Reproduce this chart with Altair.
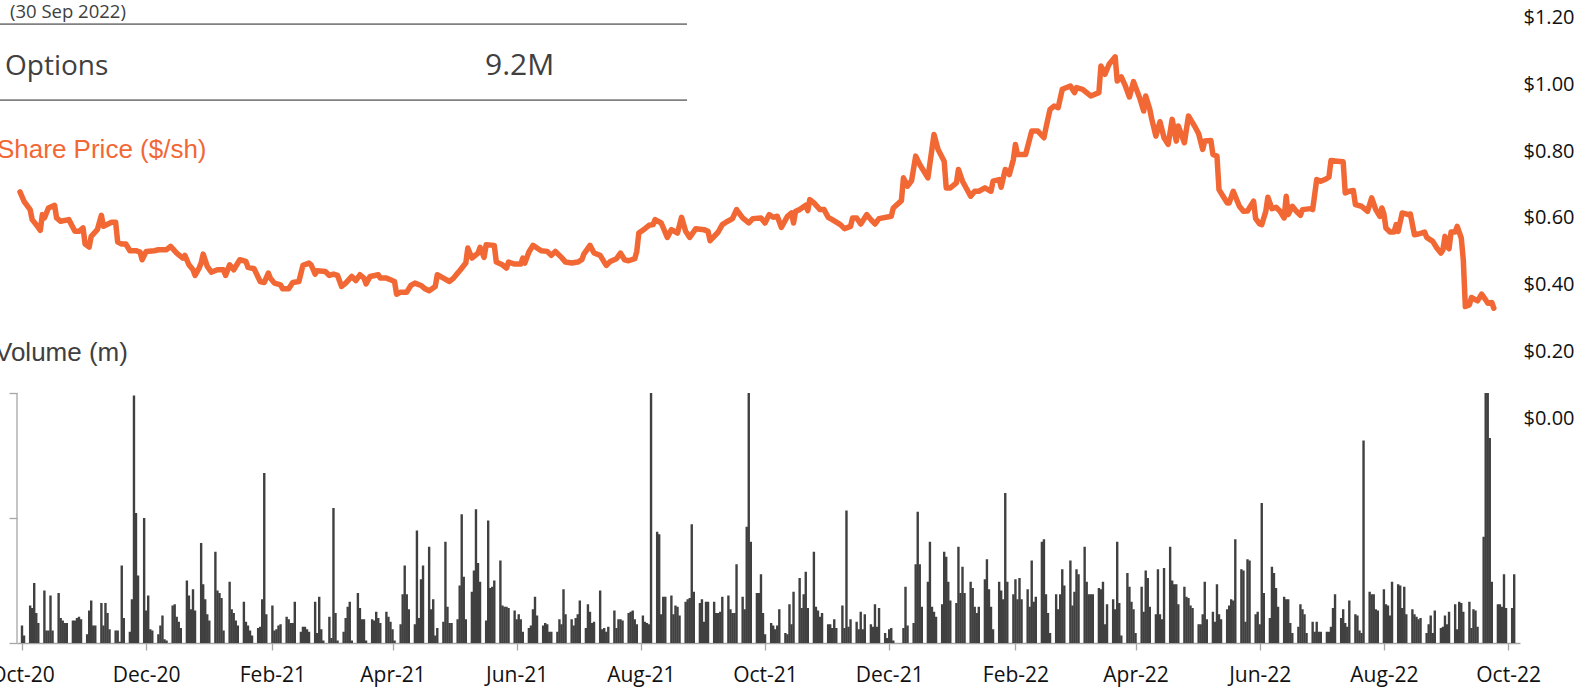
import altair as alt
import pandas as pd

START = "2020-10-01"

# ---------------- data ----------------
# daily traded volume (m), business days from 1 Oct 2020, one row per week
volume_m = [
    0.7, 0.3,
    1.5, 1.4, 2.4, 1.2, 0.8,
    2.1, 0.5, 0.5, 1.9, 0.5,
    2.0, 1.0, 0.9, 0.8, 0.8,
    0.9, 0.9, 1.0, 1.05, 0.95,
    0.35, 1.3, 1.7, 0.7, 0.7,
    1.6, 0.7, 1.6, 1.2, 0.55,
    0.5, 0.5, 0.05, 3.1, 1.0,
    0.45, 1.75, 9.9, 5.2, 2.7,
    5.0, 1.3, 1.9, 0.55, 0.5,
    0.35, 0.7, 1.1, 0.15, 0.1,
    1.5, 1.55, 1.05, 0.85, 0.6,
    2.5, 1.9, 1.35, 2.15, 1.3,
    4.0, 2.35, 1.75, 1.15, 0.9,
    3.65, 2.1, 2.0, 1.8, 0.5,
    2.45, 1.35, 1.2, 0.9, 0.7,
    1.65, 0.85, 0.7, 0.5, 0.3,
    0.6, 0.65, 1.75, 6.8, 1.15,
    1.5, 0.5, 0.55, 0.7, 0.75,
    1.05, 0.95, 0.8, 0.8, 1.65,
    0.45, 0.65, 0.65, 0.55, 0.45,
    1.65, 0.4, 1.85, 0.55, 0.1,
    1.05, 0.2, 5.4, 1.2, 0.1,
    0.45, 1.0, 1.45, 1.65, 0.1,
    2.0, 1.4, 0.95, 0.95, 0.1,
    0.95, 0.9, 1.25, 1.0, 0.8,
    1.25, 1.05, 0.85, 0.55, 0.1,
    0.75, 1.95, 3.1, 1.95, 1.35,
    0.75, 4.5, 1.0, 2.55, 3.1,
    3.85, 1.35, 1.75, 0.3, 0.6,
    0.85, 4.05, 1.45, 0.8, 0.8,
    0.95, 2.3, 5.15, 2.65, 0.95,
    2.05, 2.9, 5.35, 3.2, 2.45,
    0.9, 4.9, 2.2, 2.25, 2.5,
    3.3, 1.5, 1.45, 1.45, 1.4,
    1.3, 0.95, 1.15, 0.95, 0.45,
    0.6, 0.7, 1.35, 1.85, 1.1,
    0.7, 0.8, 0.75, 0.45, 0.45,
    0.45, 0.95, 0.75, 2.15, 1.15,
    0.95, 0.7, 1.0, 1.15, 1.7,
    0.6, 1.55, 1.25, 0.8, 0.85,
    2.1, 0.55, 0.6, 0.45, 0.65,
    1.3, 0.6, 0.95, 0.95, 0.9,
    1.2, 1.25, 1.3, 0.95, 0.75,
    1.1, 0.85, 0.8, 0.75, 10.0,
    4.45, 4.35, 1.15, 1.85, 1.85,
    1.9, 1.15, 1.5, 1.45, 1.1,
    1.65, 1.75, 1.8, 4.75, 2.05,
    1.6, 1.75, 0.85, 1.65, 1.65,
    1.65, 1.2, 1.2, 1.25, 1.85,
    1.9, 1.35, 1.2, 1.2, 3.15,
    1.85, 1.35, 4.65, 10.0, 4.05,
    2.0, 2.0, 2.75, 1.2, 0.35,
    0.8, 0.7, 0.55, 0.7, 1.35,
    0.4, 0.35, 1.55, 0.75, 2.05,
    2.6, 1.4, 1.95, 2.85, 1.4,
    3.65, 1.45, 1.3, 1.05, 1.2,
    0.75, 0.75, 0.6, 0.95, 0.6,
    1.5, 0.6, 5.3, 0.65, 0.95,
    0.85, 0.55, 1.25, 0.55, 1.15,
    0.75, 0.65, 1.55, 0.65, 1.4,
    0.4, 0.2, 0.55, 0.6, 0.1,
    0.0, 0.0, 0.6, 2.25, 0.7,
    0.8, 3.15, 5.25, 3.15, 1.45,
    2.45, 4.05, 1.45, 1.25, 1.05,
    1.55, 3.65, 3.45, 2.45, 1.7,
    1.6, 3.85, 2.0, 3.05, 2.0,
    2.45, 2.2, 1.45, 1.2, 1.45,
    2.55, 3.35, 2.15, 1.45, 0.55,
    2.45, 2.1, 1.75, 6.0, 2.45,
    1.95, 2.55, 1.75, 2.6, 1.75,
    2.15, 1.45, 3.3, 1.65, 1.85,
    4.05, 4.15, 1.95, 1.2, 0.4,
    1.95, 1.35, 1.95, 2.95, 2.3,
    3.3, 1.5, 2.05, 2.95, 2.75,
    3.85, 2.45, 1.95, 1.95, 1.95,
    2.2, 2.15, 2.45, 0.75, 1.55,
    1.75, 1.35, 4.05, 1.6, 0.3,
    2.8, 2.25, 1.65, 1.35, 0.4,
    2.25, 1.25, 2.9, 2.6, 1.45,
    1.15, 2.95, 1.15, 0.95, 3.0,
    3.85, 2.5, 2.35, 2.35, 1.55,
    2.25, 1.85, 1.8, 1.5, 1.4,
    0.75, 0.75, 1.15, 2.45, 0.95,
    1.25, 0.85, 2.35, 1.15, 0.95,
    1.35, 1.5, 1.75, 1.7, 4.15,
    2.95, 2.9, 0.85, 3.35, 3.3,
    1.15, 1.25, 0.75, 5.6, 2.0,
    1.0, 3.05, 2.8, 2.2, 1.45,
    1.85, 1.75, 1.75, 0.8, 0.4,
    0.65, 1.55, 1.35, 1.15, 0.4,
    0.85, 0.45, 0.85, 0.45, 0.45,
    0.45, 0.45, 0.65, 1.4, 1.95,
    1.0, 1.35, 0.8, 0.65, 1.7,
    1.15, 1.1, 0.5, 0.4, 8.1,
    2.05, 1.95, 1.95, 1.35, 1.3,
    2.15, 1.55, 1.5, 1.1, 2.45,
    2.35, 2.3, 1.4, 2.25, 1.15,
    1.35, 1.15, 1.05, 0.95, 1.0,
    0.4, 0.75, 1.1, 0.4, 1.3,
    0.6, 0.65, 1.1, 0.75, 1.25,
    1.55, 0.55, 1.65, 1.6, 1.25,
    1.65, 0.6, 1.35, 1.3, 0.65,
    4.25, 10.0, 10.0, 8.2, 2.45,
    1.55, 1.55, 1.45, 2.75, 1.4,
    1.4, 2.75,
]

# share price: days after 1 Oct 2020, and price in $/sh
price_day = [
    -1, 1, 4, 5, 7, 9, 10, 11, 13, 16, 17, 19, 23, 26, 28, 30, 31, 33, 34, 37,
    39, 40, 44, 46, 47, 49, 51, 53, 56, 58, 59, 61, 65, 67, 71, 73, 76, 79, 80, 82,
    84, 85, 87, 88, 89, 91, 93, 96, 99, 100, 102, 104, 107, 110, 111, 114, 117, 119, 121, 122,
    124, 127, 128, 131, 133, 136, 138, 141, 142, 144, 145, 149, 151, 153, 155, 157, 159, 162, 164, 166,
    168, 169, 171, 175, 176, 179, 181, 183, 184, 186, 189, 191, 193, 196, 198, 200, 203, 204, 207, 210,
    212, 214, 215, 218, 219, 221, 224, 225, 227, 228, 232, 233, 236, 238, 239, 242, 245, 246, 247, 249,
    251, 253, 255, 258, 260, 262, 265, 267, 270, 273, 275, 276, 279, 281, 284, 287, 289, 292, 294, 296,
    298, 301, 302, 303, 306, 308, 310, 311, 314, 317, 319, 322, 324, 326, 328, 331, 335, 337, 338, 340,
    342, 344, 346, 349, 351, 354, 357, 359, 363, 365, 367, 369, 371, 373, 376, 378, 379, 380, 382, 385,
    386, 387, 389, 392, 394, 396, 398, 402, 404, 407, 408, 410, 412, 415, 417, 419, 421, 427, 428, 432,
    433, 435, 437, 439, 441, 445, 448, 450, 453, 454, 456, 459, 460, 462, 466, 468, 470, 473, 476, 477,
    480, 481, 483, 485, 487, 488, 489, 493, 496, 499, 502, 503, 505, 507, 509, 511, 515, 517, 518, 521,
    523, 525, 529, 530, 532, 534, 537, 538, 540, 542, 544, 546, 549, 551, 552, 554, 555, 557, 559, 561,
    563, 565, 567, 568, 571, 573, 576, 578, 580, 581, 584, 585, 587, 588, 590, 592, 593, 595, 598, 600,
    602, 605, 606, 608, 609, 611, 612, 614, 616, 618, 620, 621, 622, 624, 626, 628, 629, 633, 634, 636,
    638, 640, 642, 643, 646, 649, 650, 652, 654, 655, 658, 660, 661, 663, 665, 667, 668, 669, 670, 672,
    674, 675, 676, 678, 681, 682, 684, 686, 689, 690, 693, 695, 697, 698, 699, 700, 701, 702, 704, 705,
    707, 708, 709, 711, 712, 715, 717, 719, 720, 722, 723,
]
price_usd = [
    0.678, 0.650, 0.625, 0.595, 0.580, 0.563, 0.610, 0.600, 0.630, 0.638, 0.600, 0.590, 0.595, 0.560, 0.560, 0.570, 0.522, 0.513, 0.545, 0.565,
    0.608, 0.575, 0.587, 0.587, 0.528, 0.522, 0.522, 0.502, 0.502, 0.498, 0.475, 0.500, 0.502, 0.505, 0.505, 0.515, 0.495, 0.480, 0.488, 0.460,
    0.445, 0.428, 0.450, 0.465, 0.492, 0.455, 0.438, 0.445, 0.445, 0.428, 0.460, 0.445, 0.475, 0.470, 0.452, 0.448, 0.410, 0.407, 0.435, 0.420,
    0.405, 0.400, 0.388, 0.388, 0.407, 0.410, 0.458, 0.465, 0.460, 0.432, 0.442, 0.440, 0.428, 0.432, 0.428, 0.395, 0.405, 0.425, 0.413, 0.430,
    0.420, 0.403, 0.425, 0.430, 0.420, 0.420, 0.415, 0.410, 0.372, 0.378, 0.378, 0.398, 0.405, 0.398, 0.388, 0.382, 0.395, 0.430, 0.420, 0.410,
    0.420, 0.435, 0.442, 0.465, 0.510, 0.480, 0.495, 0.512, 0.482, 0.520, 0.518, 0.468, 0.460, 0.450, 0.468, 0.462, 0.462, 0.480, 0.465, 0.498,
    0.518, 0.510, 0.502, 0.500, 0.488, 0.500, 0.482, 0.468, 0.465, 0.468, 0.475, 0.492, 0.518, 0.495, 0.488, 0.458, 0.470, 0.478, 0.495, 0.475,
    0.472, 0.478, 0.500, 0.555, 0.568, 0.578, 0.580, 0.595, 0.585, 0.542, 0.565, 0.555, 0.602, 0.560, 0.542, 0.568, 0.565, 0.560, 0.532, 0.545,
    0.558, 0.580, 0.588, 0.598, 0.625, 0.600, 0.585, 0.598, 0.600, 0.585, 0.610, 0.602, 0.605, 0.572, 0.605, 0.615, 0.585, 0.620, 0.625, 0.638,
    0.622, 0.655, 0.645, 0.625, 0.625, 0.602, 0.595, 0.580, 0.568, 0.575, 0.600, 0.600, 0.582, 0.610, 0.595, 0.582, 0.598, 0.605, 0.630, 0.652,
    0.720, 0.695, 0.712, 0.785, 0.760, 0.720, 0.850, 0.805, 0.770, 0.690, 0.690, 0.705, 0.745, 0.710, 0.665, 0.680, 0.680, 0.690, 0.680, 0.710,
    0.715, 0.692, 0.745, 0.730, 0.775, 0.820, 0.790, 0.790, 0.860, 0.860, 0.840, 0.870, 0.925, 0.935, 0.930, 0.985, 0.995, 0.975, 0.990, 0.985,
    0.975, 0.965, 0.975, 1.055, 1.030, 1.060, 1.082, 1.010, 1.022, 0.995, 0.962, 1.008, 0.960, 0.920, 0.965, 0.925, 0.895, 0.845, 0.888, 0.840,
    0.820, 0.895, 0.830, 0.875, 0.825, 0.905, 0.875, 0.852, 0.805, 0.830, 0.832, 0.790, 0.785, 0.685, 0.665, 0.645, 0.645, 0.680, 0.635, 0.620,
    0.621, 0.650, 0.598, 0.582, 0.580, 0.620, 0.662, 0.628, 0.632, 0.620, 0.600, 0.665, 0.610, 0.635, 0.620, 0.608, 0.625, 0.628, 0.625, 0.715,
    0.710, 0.715, 0.722, 0.772, 0.770, 0.768, 0.675, 0.680, 0.682, 0.640, 0.635, 0.625, 0.620, 0.660, 0.625, 0.605, 0.630, 0.612, 0.570, 0.558,
    0.558, 0.580, 0.560, 0.615, 0.610, 0.612, 0.550, 0.552, 0.558, 0.542, 0.530, 0.510, 0.495, 0.505, 0.545, 0.515, 0.508, 0.558, 0.558, 0.575,
    0.540, 0.475, 0.335, 0.340, 0.362, 0.352, 0.372, 0.355, 0.345, 0.347, 0.330,
]

x_tick_dates = ["2020-10-01", "2020-12-01", "2021-02-01", "2021-04-01", "2021-06-01",
                "2021-08-01", "2021-10-01", "2021-12-01", "2022-02-01", "2022-04-01",
                "2022-06-01", "2022-08-01", "2022-10-01"]
price_ticks = [0.0, 0.2, 0.4, 0.6, 0.8, 1.0, 1.2]
volume_ticks = [0, 5, 10]
x_domain_dates = ["2020-10-01T00:00", "2022-10-04T09:36"]

# ---------------- build tables ----------------
def ms(ts):
    return int((pd.Timestamp(ts) - pd.Timestamp("1970-01-01")) / pd.Timedelta("1ms"))

vol_dates = pd.bdate_range("2020-10-01", "2022-10-04")
n = min(len(vol_dates), len(volume_m))
vol_df = pd.DataFrame({"t": [ms(d) for d in vol_dates[:n]], "v": volume_m[:n]})

m = min(len(price_day), len(price_usd))
price_df = pd.DataFrame({
    "t": [ms(pd.Timestamp(START) + pd.Timedelta(days=d)) for d in price_day[:m]],
    "p": price_usd[:m],
    "i": list(range(m)),
})
vol_axis_df = pd.DataFrame({"lo": [volume_ticks[0]], "hi": [volume_ticks[-1]]})
one = pd.DataFrame({"a": [0]})

# ---------------- styling ----------------
ORANGE = "#F26835"
DARK = "#404040"
AXIS_GREY = "#A6A6A6"
LABEL = "#111111"
FONT = "Open Sans"

x_scale = alt.Scale(type="utc", domain=[ms(d) for d in x_domain_dates], nice=False)
x_axis = alt.Axis(values=[ms(d) for d in x_tick_dates],
                  labelExpr="utcFormat(datum.value, '%b-%y')",
                  title=None, grid=False, domainColor=AXIS_GREY, domainWidth=1.3,
                  tickColor=AXIS_GREY, tickSize=7, tickWidth=1.3,
                  labelFontSize=21, labelFont=FONT, labelColor=LABEL,
                  labelPadding=14, labelFlush=False, labelOverlap=False, labelBound=False)
vol_scale = alt.Scale(domain=[0, 25.72], nice=False, zero=False)
price_scale = alt.Scale(domain=[-0.6718, 1.2522], nice=False, zero=False)

bars = alt.Chart(vol_df).mark_bar(size=2.4, color=DARK).encode(
    x=alt.X("t:T", scale=x_scale, axis=x_axis),
    y=alt.Y("v:Q", scale=vol_scale,
            axis=alt.Axis(orient="left", values=volume_ticks, labels=False, domain=False,
                          ticks=True, tickSize=8, tickColor=AXIS_GREY, tickWidth=1.3,
                          grid=False, title=None)),
)

vol_axis_line = alt.Chart(vol_axis_df).mark_rule(color=AXIS_GREY, strokeWidth=1.3).encode(
    x=alt.value(0),
    y=alt.Y("lo:Q", scale=vol_scale, axis=None),
    y2="hi:Q",
)

price_line = alt.Chart(price_df).mark_line(
    color=ORANGE, strokeWidth=5.5, strokeJoin="round", strokeCap="round"
).encode(
    x=alt.X("t:T", scale=x_scale, axis=x_axis),
    y=alt.Y("p:Q", scale=price_scale,
            axis=alt.Axis(orient="right", values=price_ticks, format="$.2f", domain=False,
                          ticks=False, tickSize=0, grid=False, title=None,
                          labelFontSize=20, labelFont=FONT, labelColor=LABEL,
                          labelPadding=3, labelOverlap=False, labelBound=False)),
    order="i:Q",
)

def text(label, x, y, size, color, font, align="left"):
    return alt.Chart(one).mark_text(
        text=label, fontSize=size, color=color, font=font, align=align, baseline="alphabetic"
    ).encode(x=alt.value(x), y=alt.value(y))

def hline(y):
    return alt.Chart(one).mark_rule(color="#808080", strokeWidth=1.75).encode(
        x=alt.value(-17), x2=alt.value(670), y=alt.value(y))

layers = [
    hline(24), hline(100),
    text("(30 Sep 2022)", -7, 17.5, 18.5, DARK, FONT),
    text("Options", -12, 75, 28, DARK, FONT),
    text("9.2M", 468, 75, 30, DARK, FONT),
    text("Share Price ($/sh)", -20, 158, 26, ORANGE, "Liberation Sans"),
    text("Volume (m)", -22, 361, 26, DARK, "Liberation Sans"),
    vol_axis_line, bars, price_line,
]

chart = alt.layer(*layers).resolve_scale(y="independent").properties(
    width=1503, height=643,
    autosize=alt.AutoSizeParams(type="none"),
    padding={"left": 17, "top": 0, "right": 57, "bottom": 44},
    background="white",
).configure_view(stroke=None)

chart.save("out.html", embed_options={"renderer": "svg", "actions": False})
